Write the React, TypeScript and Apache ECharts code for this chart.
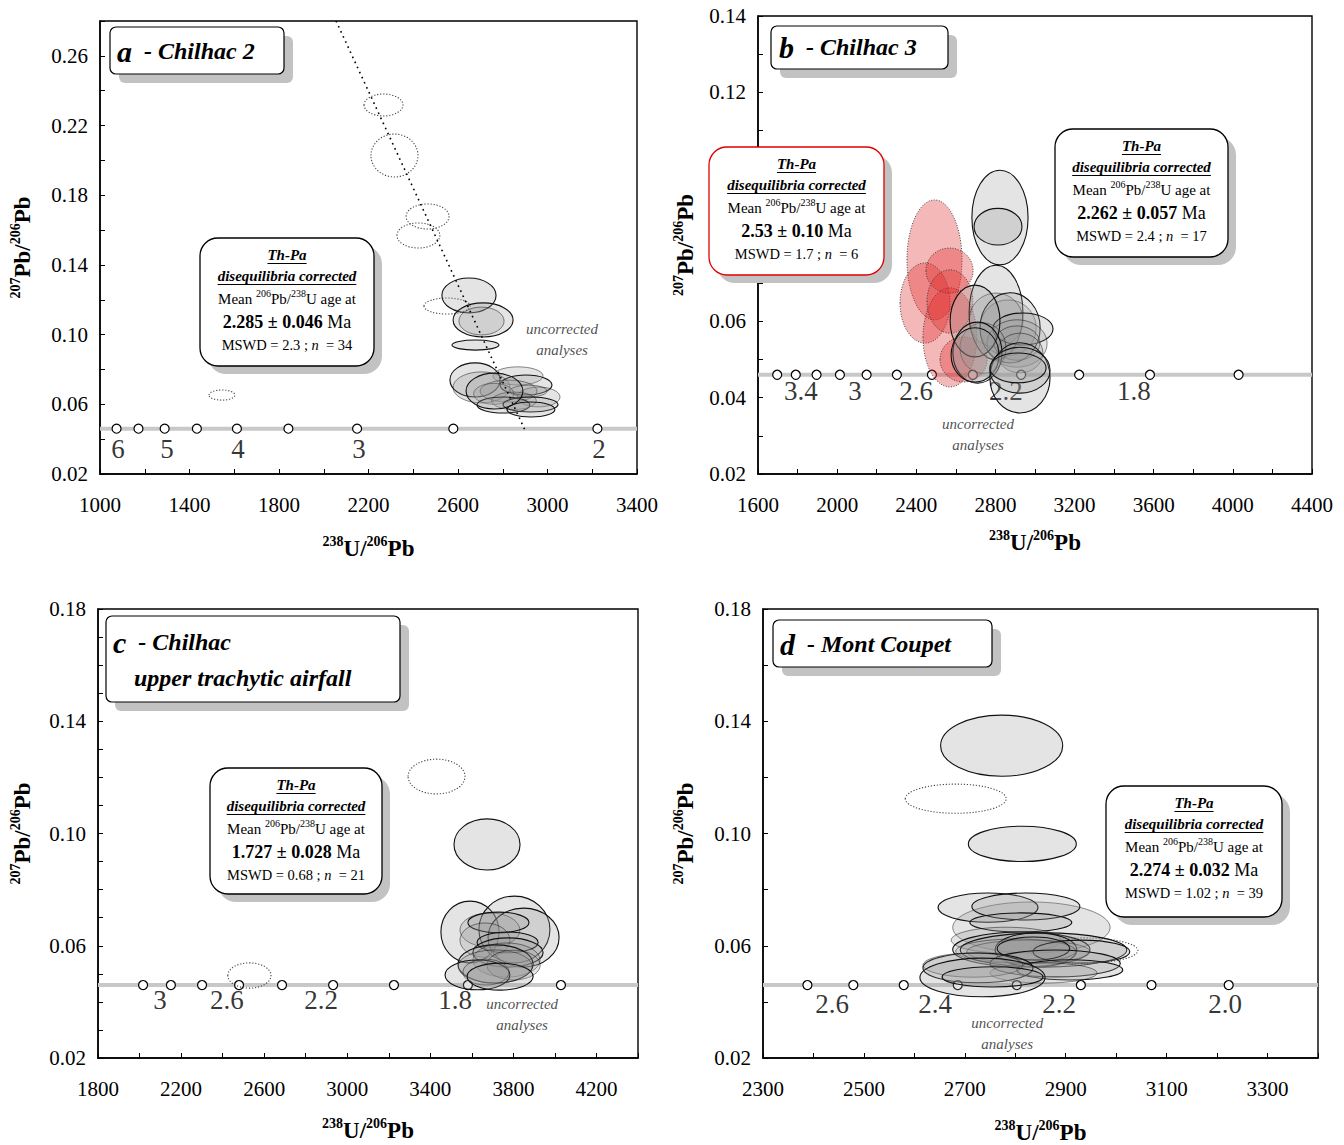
import React, { useEffect, useRef } from 'react';
import * as echarts from 'echarts';

const SERIF = '"Liberation Serif", "Times New Roman", serif';
const CONCORDIA_Y = 0.046;

// ---------- Panel a : Chilhac 2 ----------
// ellipse rows: [x centre, y centre, x half-axis, y half-axis, style]
// style: 0 dotted (uncorrected, excluded), 1 grey dark outline, 2 grey light outline, 3 red
const aEllipses = [
  [2267, 0.2318, 87, 0.0063, 0],
  [2316, 0.2028, 105, 0.0123, 0],
  [2464, 0.1678, 96, 0.0072, 0],
  [2423, 0.1569, 96, 0.0072, 0],
  [2551, 0.1164, 103, 0.0046, 0],
  [1545, 0.0653, 58, 0.0029, 0],
  [2649, 0.1225, 121, 0.01, 1],
  [2712, 0.1084, 134, 0.0098, 1],
  [2705, 0.1078, 101, 0.008, 2],
  [2678, 0.094, 105, 0.0029, 1],
  [2868, 0.0763, 112, 0.0052, 2],
  [2676, 0.074, 112, 0.0098, 1],
  [2705, 0.0697, 127, 0.0089, 2],
  [2904, 0.0711, 116, 0.0057, 1],
  [2960, 0.0642, 96, 0.0057, 2],
  [2826, 0.0676, 127, 0.0063, 2],
  [2915, 0.0676, 83, 0.0034, 2],
  [2760, 0.066, 90, 0.006, 2],
  [2850, 0.062, 100, 0.005, 2],
  [2803, 0.0596, 118, 0.0046, 1],
  [2924, 0.0599, 123, 0.0043, 1],
  [2926, 0.057, 107, 0.0043, 1],
  [2763, 0.0676, 127, 0.0103, 1],
];
const aTrend = [[2055, 0.28], [2899, 0.0453]];
const aConcordiaX = [1074, 1172, 1289, 1433, 1612, 1842, 2149, 2579, 3223];
const aAgeLabels = ['6', '5', '4', '3', '2'];
const aAgeLabelX = [1080, 1299, 1617, 2157, 3230];
const aAgeLabelY = 0.0344;
const aNote = [3065, 0.0972];

// ---------- Panel b : Chilhac 3 ----------
const bEllipses = [
  [2492, 0.0761, 139, 0.0157, 3],
  [2444, 0.0648, 126, 0.0105, 3],
  [2570, 0.0558, 136, 0.013, 3],
  [2568, 0.0733, 119, 0.0059, 3],
  [2570, 0.0652, 116, 0.0083, 3],
  [2639, 0.05, 119, 0.0059, 3],
  [2823, 0.0872, 142, 0.0124, 1],
  [2813, 0.0848, 121, 0.0048, 1],
  [2803, 0.0623, 136, 0.0124, 1],
  [2864, 0.0583, 142, 0.0073, 2],
  [2803, 0.0603, 136, 0.0071, 2],
  [2874, 0.0583, 152, 0.0092, 1],
  [2939, 0.058, 152, 0.0042, 1],
  [2909, 0.0542, 152, 0.0062, 2],
  [2909, 0.0543, 116, 0.0045, 2],
  [2924, 0.0517, 116, 0.0052, 2],
  [2737, 0.053, 116, 0.0066, 2],
  [2697, 0.0601, 126, 0.0094, 1],
  [2709, 0.0518, 124, 0.008, 1],
  [2697, 0.0512, 121, 0.0071, 1],
  [2924, 0.0452, 152, 0.0092, 1],
  [2924, 0.0472, 152, 0.006, 1],
  [2914, 0.0478, 142, 0.0039, 1],
];
const bConcordiaX = [1697, 1791, 1896, 2014, 2149, 2302, 2479, 2686, 2930, 3223, 3581, 4029];
const bAgeLabels = ['3.4', '3', '2.6', '2.2', '1.8'];
const bAgeLabelX = [1817, 2090, 2399, 2853, 3500];
const bAgeLabelY = 0.0417;
const bNote = [2712, 0.0303];
// tick labels hidden behind the red summary box in the reference
const bHiddenYTicks = [0.08, 0.1];

// ---------- Panel c : Chilhac upper trachytic airfall ----------
const cEllipses = [
  [3430, 0.1203, 137, 0.0062, 0],
  [2529, 0.0494, 104, 0.0045, 0],
  [3673, 0.0961, 159, 0.0091, 1],
  [3591, 0.0649, 140, 0.011, 1],
  [3805, 0.0658, 171, 0.0119, 1],
  [3849, 0.0629, 171, 0.0105, 1],
  [3687, 0.0656, 144, 0.0061, 2],
  [3728, 0.0683, 147, 0.0037, 1],
  [3663, 0.062, 120, 0.0061, 2],
  [3772, 0.0612, 147, 0.0037, 1],
  [3774, 0.0576, 169, 0.0052, 1],
  [3767, 0.0549, 161, 0.0061, 2],
  [3714, 0.0535, 181, 0.0068, 1],
  [3712, 0.0526, 178, 0.0059, 2],
  [3801, 0.0531, 128, 0.0053, 2],
  [3627, 0.0496, 156, 0.0053, 1],
  [3668, 0.0506, 111, 0.0046, 2],
  [3736, 0.049, 159, 0.0048, 1],
];
const cConcordiaX = [2017, 2151, 2301, 2479, 2686, 2932, 3225, 3581, 4029];
const cAgeLabels = ['3', '2.6', '2.2', '1.8'];
const cAgeLabelX = [2099, 2421, 2874, 3519];
const cAgeLabelY = 0.0407;
const cNote = [3842, 0.0355];

// ---------- Panel d : Mont Coupet ----------
const dEllipses = [
  [2682, 0.1124, 100, 0.0052, 0],
  [2936, 0.0583, 107, 0.0045, 0],
  [2773, 0.1313, 121, 0.0109, 1],
  [2814, 0.0963, 107, 0.0063, 1],
  [2832, 0.0665, 156, 0.0091, 2],
  [2746, 0.0736, 99, 0.0052, 1],
  [2821, 0.074, 107, 0.0048, 1],
  [2811, 0.0683, 101, 0.0034, 1],
  [2782, 0.062, 109, 0.0046, 2],
  [2812, 0.0587, 136, 0.0062, 1],
  [2856, 0.0585, 165, 0.0061, 1],
  [2841, 0.0585, 81, 0.0061, 1],
  [2826, 0.0579, 122, 0.0041, 2],
  [2801, 0.0581, 119, 0.0043, 2],
  [2931, 0.0579, 96, 0.0041, 1],
  [2836, 0.059, 72, 0.0041, 1],
  [2879, 0.0537, 129, 0.0048, 1],
  [2908, 0.0514, 105, 0.0036, 1],
  [2856, 0.0503, 106, 0.0036, 2],
  [2726, 0.0521, 109, 0.0053, 1],
  [2716, 0.0531, 99, 0.0043, 2],
  [2735, 0.0487, 124, 0.0069, 1],
  [2755, 0.0489, 100, 0.0036, 1],
];
const dConcordiaX = [2388, 2479, 2579, 2686, 2803, 2930, 3070, 3223];
const dAgeLabels = ['2.6', '2.4', '2.2', '2.0'];
const dAgeLabelX = [2437, 2641, 2887, 3216];
const dAgeLabelY = 0.0392;
const dNote = [2784, 0.0287];

// ---------- info boxes ----------
const infoAges = ['2.285 ± 0.046', '2.53 ± 0.10', '2.262 ± 0.057', '1.727 ± 0.028', '2.274 ± 0.032'];
const infoMswd = ['2.3', '1.7', '2.4', '0.68', '1.02'];
const infoN = ['34', '6', '17', '21', '39'];

const panelTitles = ['a', 'b', 'c', 'd'];
const panelNames = ['- Chilhac 2', '- Chilhac 3', '- Chilhac', '- Mont Coupet'];
const panelSubtitle = 'upper trachytic airfall';

const panels = [
  { grid: { left: 100, top: 21, width: 537, height: 453 }, x: [1000, 3400, 200, 400], y: [0.02, 0.28, 0.02, 0.04], xGap: 60, yGap: 64,
    ell: aEllipses, conc: aConcordiaX, labs: aAgeLabels, labX: aAgeLabelX, labY: aAgeLabelY, note: aNote, trend: aTrend, hideY: [] as number[] },
  { grid: { left: 758, top: 16, width: 554, height: 458 }, x: [1600, 4400, 200, 400], y: [0.02, 0.14, 0.01, 0.02], xGap: 54, yGap: 59,
    ell: bEllipses, conc: bConcordiaX, labs: bAgeLabels, labX: bAgeLabelX, labY: bAgeLabelY, note: bNote, trend: null, hideY: bHiddenYTicks },
  { grid: { left: 98, top: 609, width: 540, height: 449 }, x: [1800, 4400, 200, 400], y: [0.02, 0.18, 0.01, 0.04], xGap: 58, yGap: 62,
    ell: cEllipses, conc: cConcordiaX, labs: cAgeLabels, labX: cAgeLabelX, labY: cAgeLabelY, note: cNote, trend: null, hideY: [] as number[] },
  { grid: { left: 763, top: 609, width: 555, height: 449 }, x: [2300, 3400, 100, 200], y: [0.02, 0.18, 0.02, 0.04], xGap: 60, yGap: 64,
    ell: dEllipses, conc: dConcordiaX, labs: dAgeLabels, labX: dAgeLabelX, labY: dAgeLabelY, note: dNote, trend: null, hideY: [] as number[] },
];

const measureCtx = typeof document !== 'undefined' ? document.createElement('canvas').getContext('2d') : null;
function textWidth(text: string, font: string) {
  if (!measureCtx) return text.length * 7;
  measureCtx.font = font;
  return measureCtx.measureText(text).width;
}

function labelFmt(min: number, interval: number, every: number, dec: number, hide: number[] = []) {
  const step = Math.round(every / interval);
  return (v: number) => {
    const k = Math.round((v - min) / interval);
    if (hide.some((h) => Math.abs(h - v) < interval / 10)) return '';
    return k % step === 0 ? v.toFixed(dec) : '';
  };
}

const nameRich = {
  s: { fontSize: 14, fontWeight: 'bold', fontFamily: SERIF, color: '#000', verticalAlign: 'top', lineHeight: 14 },
  b: { fontSize: 23, fontWeight: 'bold', fontFamily: SERIF, color: '#000', lineHeight: 28 },
};

function ellipseStyle(t: number) {
  if (t === 0) return { fill: 'none', stroke: '#444', lineWidth: 1.1, lineDash: [1.2, 1.8] };
  if (t === 3) return { fill: 'rgba(225,40,40,0.33)', stroke: '#333', lineWidth: 0.9, lineDash: [1, 1.6] };
  if (t === 2) return { fill: 'rgba(150,150,150,0.26)', stroke: 'rgba(0,0,0,0.45)', lineWidth: 1 };
  return { fill: 'rgba(150,150,150,0.26)', stroke: '#111', lineWidth: 1.1 };
}

function infoBox(x: number, y: number, w: number, h: number, i: number, border: string) {
  const cx = x + w / 2;
  const els: any[] = [];
  els.push({ type: 'rect', z: 100, shape: { x: x + 8, y: y + 8, width: w, height: h, r: 18 }, style: { fill: '#c2c2c2' } });
  els.push({ type: 'rect', z: 101, shape: { x, y, width: w, height: h, r: 18 }, style: { fill: '#fff', stroke: border, lineWidth: 1.3 } });
  const hf = 'italic bold 15px "Liberation Serif"';
  const heads = [['Th-Pa', 17], ['disequilibria corrected', 38]] as [string, number][];
  heads.forEach(([t, dy]) => {
    els.push({ type: 'text', z: 102, x: cx, y: y + dy,
      style: { text: t, fontFamily: SERIF, fontSize: 15, fontWeight: 'bold', fontStyle: 'italic', fill: '#000', align: 'center', verticalAlign: 'middle' } });
    const tw = textWidth(t, hf);
    els.push({ type: 'line', z: 102, shape: { x1: cx - tw / 2, y1: y + dy + 8.5, x2: cx + tw / 2, y2: y + dy + 8.5 }, style: { stroke: '#000', lineWidth: 1.2 } });
  });
  els.push({ type: 'text', z: 102, x: cx, y: y + 61,
    style: { text: '{n|Mean }{s|206}{n|Pb/}{s|238}{n|U age at}', align: 'center', verticalAlign: 'middle',
      rich: {
        n: { fontFamily: SERIF, fontSize: 15, fill: '#000', lineHeight: 22 },
        s: { fontFamily: SERIF, fontSize: 10, fill: '#000', lineHeight: 10, verticalAlign: 'top' },
      } } });
  els.push({ type: 'text', z: 102, x: cx, y: y + 84,
    style: { text: `{b|${infoAges[i]}}{r| Ma}`, align: 'center', verticalAlign: 'middle',
      rich: {
        b: { fontFamily: SERIF, fontSize: 18, fontWeight: 'bold', fill: '#000' },
        r: { fontFamily: SERIF, fontSize: 18, fill: '#000' },
      } } });
  els.push({ type: 'text', z: 102, x: cx, y: y + 107,
    style: { text: `{r|MSWD = ${infoMswd[i]} ; }{i|n}{r|  = ${infoN[i]}}`, align: 'center', verticalAlign: 'middle',
      rich: {
        r: { fontFamily: SERIF, fontSize: 14.5, fill: '#000' },
        i: { fontFamily: SERIF, fontSize: 14.5, fontStyle: 'italic', fill: '#000' },
      } } });
  return els;
}

function titleBox(x: number, y: number, w: number, h: number, lines: { tx: number; ty: number; text: string }[]) {
  const els: any[] = [];
  els.push({ type: 'rect', z: 100, shape: { x: x + 9, y: y + 9, width: w, height: h, r: 6 }, style: { fill: '#c2c2c2' } });
  els.push({ type: 'rect', z: 101, shape: { x, y, width: w, height: h, r: 6 }, style: { fill: '#fff', stroke: '#000', lineWidth: 1.2 } });
  lines.forEach((l) => {
    els.push({ type: 'text', z: 102, x: l.tx, y: l.ty,
      style: { text: l.text, align: 'left', verticalAlign: 'middle',
        rich: {
          l: { fontFamily: SERIF, fontSize: 30, fontWeight: 'bold', fontStyle: 'italic', fill: '#000' },
          t: { fontFamily: SERIF, fontSize: 24, fontWeight: 'bold', fontStyle: 'italic', fill: '#000' },
        } } });
  });
  return els;
}

export default function App() {
  const ref = useRef<HTMLDivElement>(null);
  useEffect(() => {
    if (!ref.current) return;
    const chart = echarts.init(ref.current, null, { renderer: 'svg' });

    const grids: any[] = [];
    const xAxes: any[] = [];
    const yAxes: any[] = [];
    const series: any[] = [];

    panels.forEach((p, i) => {
      grids.push({ ...p.grid, show: true, borderColor: '#000', borderWidth: 1.4, backgroundColor: 'transparent', containLabel: false });
      const [xmin, xmax, xint, xevery] = p.x;
      const [ymin, ymax, yint, yevery] = p.y;
      xAxes.push({
        type: 'value', gridIndex: i, min: xmin, max: xmax, interval: xint,
        name: '{s|238}{b|U/}{s|206}{b|Pb}', nameLocation: 'middle', nameGap: p.xGap,
        nameTextStyle: { rich: nameRich },
        axisLine: { show: true, lineStyle: { color: '#000', width: 1.5 } },
        axisTick: { show: true, inside: true, length: 5, lineStyle: { color: '#000', width: 1 } },
        axisLabel: { formatter: labelFmt(xmin, xint, xevery, 0), fontFamily: SERIF, fontSize: 21, color: '#000', margin: 20 },
        splitLine: { show: false },
      });
      yAxes.push({
        type: 'value', gridIndex: i, min: ymin, max: ymax, interval: yint,
        name: '{s|207}{b|Pb/}{s|206}{b|Pb}', nameLocation: 'middle', nameGap: p.yGap,
        nameTextStyle: { rich: nameRich },
        axisLine: { show: true, lineStyle: { color: '#000', width: 1.5 } },
        axisTick: { show: true, inside: true, length: 5, lineStyle: { color: '#000', width: 1 } },
        axisLabel: { formatter: labelFmt(ymin, yint, yevery, 2, p.hideY), fontFamily: SERIF, fontSize: 21, color: '#000', margin: 12 },
        splitLine: { show: false },
      });
      // concordia band
      series.push({
        type: 'line', xAxisIndex: i, yAxisIndex: i, z: 1, symbol: 'none', silent: true,
        data: [[xmin, CONCORDIA_Y], [xmax, CONCORDIA_Y]],
        lineStyle: { color: '#c8c8c8', width: 4 },
      });
      series.push({
        type: 'scatter', xAxisIndex: i, yAxisIndex: i, z: 2, symbol: 'circle', symbolSize: 9, silent: true,
        data: p.conc.map((x) => [x, CONCORDIA_Y]),
        itemStyle: { color: '#fff', borderColor: '#000', borderWidth: 1.2, opacity: 1 },
      });
      series.push({
        type: 'scatter', xAxisIndex: i, yAxisIndex: i, z: 3, symbolSize: 0, silent: true,
        data: p.labs.map((t, k) => ({ name: t, value: [p.labX[k], p.labY] })),
        label: { show: true, position: 'inside', formatter: '{b}', fontFamily: SERIF, fontSize: 27, color: '#000' },
      });
      series.push({
        type: 'custom', xAxisIndex: i, yAxisIndex: i, z: 4, clip: true, silent: true,
        data: p.ell,
        renderItem: (params: any, api: any) => {
          const cx = api.value(0), cy = api.value(1), sx = api.value(2), sy = api.value(3), t = api.value(4);
          const c = api.coord([cx, cy]);
          const e = api.coord([cx + sx, cy + sy]);
          return {
            type: 'ellipse',
            shape: { cx: c[0], cy: c[1], rx: Math.abs(e[0] - c[0]), ry: Math.abs(e[1] - c[1]) },
            style: ellipseStyle(t),
          };
        },
      });
      if (p.trend) {
        series.push({
          type: 'line', xAxisIndex: i, yAxisIndex: i, z: 5, symbol: 'none', silent: true,
          data: p.trend,
          lineStyle: { color: '#000', width: 1.6, type: [1.6, 4] },
        });
      }
      series.push({
        type: 'scatter', xAxisIndex: i, yAxisIndex: i, z: 6, symbolSize: 0, silent: true,
        data: [{ name: 'uncorrected\nanalyses', value: p.note }],
        label: { show: true, position: 'inside', formatter: '{b}', fontFamily: SERIF, fontSize: 15, fontStyle: 'italic', color: '#222', lineHeight: 21 },
      });
    });

    const graphic: any[] = [
      ...titleBox(110, 27, 174, 47, [{ tx: 117, ty: 51, text: `{l|${panelTitles[0]}}{t|  ${panelNames[0]}}` }]),
      ...titleBox(771, 26, 177, 43, [{ tx: 779, ty: 47, text: `{l|${panelTitles[1]}}{t|  ${panelNames[1]}}` }]),
      ...titleBox(106, 616, 294, 86, [
        { tx: 113, ty: 642, text: `{l|${panelTitles[2]}}{t|  ${panelNames[2]}}` },
        { tx: 134, ty: 678, text: `{t|${panelSubtitle}}` },
      ]),
      ...titleBox(773, 620, 219, 47, [{ tx: 780, ty: 644, text: `{l|${panelTitles[3]}}{t|  ${panelNames[3]}}` }]),
      ...infoBox(200, 238, 174, 128, 0, '#000'),
      ...infoBox(709, 147, 175, 128, 1, '#e00000'),
      ...infoBox(1055, 129, 173, 128, 2, '#000'),
      ...infoBox(210, 768, 172, 126, 3, '#000'),
      ...infoBox(1106, 786, 176, 131, 4, '#000'),
    ];

    chart.setOption({
      animation: false,
      backgroundColor: '#fff',
      grid: grids,
      xAxis: xAxes,
      yAxis: yAxes,
      series,
      graphic,
    });
    return () => chart.dispose();
  }, []);

  return <div ref={ref} style={{ position: 'absolute', left: 0, top: 0, width: 1344, height: 1145 }} />;
}
